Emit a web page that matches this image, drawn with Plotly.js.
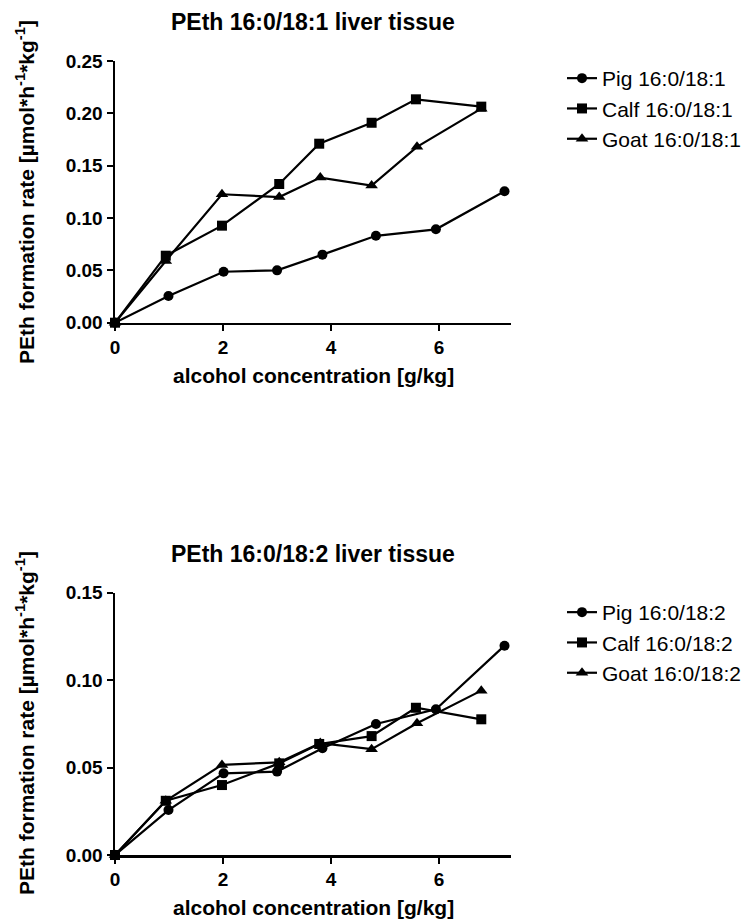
<!DOCTYPE html>
<html>
<head>
<meta charset="utf-8">
<script src="https://cdn.plot.ly/plotly-3.0.1.min.js"></script>
<style>html,body{margin:0;padding:0;background:#fff;}#chart{width:753px;height:919px;}</style>
</head>
<body>
<div id="chart"></div>
<script>
// ---- data ----
const pigX  = [0, 0.99, 2.01, 3.00, 3.84, 4.83, 5.94, 7.21];
const calfX = [0, 0.94, 1.98, 3.04, 3.78, 4.75, 5.57, 6.78];
const goatX = [0, 0.94, 1.98, 3.04, 3.80, 4.75, 5.59, 6.78];

// PEth 16:0/18:1
const pigY1  = [0, 0.0255, 0.0487, 0.0500, 0.0650, 0.0830, 0.0892, 0.1255];
const calfY1 = [0, 0.0640, 0.0927, 0.1325, 0.1710, 0.1910, 0.2134, 0.2064];
const goatY1 = [0, 0.0590, 0.1227, 0.1200, 0.1386, 0.1310, 0.1680, 0.2045];

// PEth 16:0/18:2
const pigY2  = [0, 0.0257, 0.0467, 0.0477, 0.0610, 0.0749, 0.0833, 0.1197];
const calfY2 = [0, 0.0310, 0.0400, 0.0524, 0.0635, 0.0680, 0.0842, 0.0776];
const goatY2 = [0, 0.0310, 0.0515, 0.0530, 0.0640, 0.0605, 0.0753, 0.0940];

const names1 = ['Pig 16:0/18:1', 'Calf 16:0/18:1', 'Goat 16:0/18:1'];
const names2 = ['Pig 16:0/18:2', 'Calf 16:0/18:2', 'Goat 16:0/18:2'];
const titles = ['PEth 16:0/18:1 liver tissue', 'PEth 16:0/18:2 liver tissue'];
const xTitle = 'alcohol concentration [g/kg]';
const yTitle = 'PEth formation rate [µmol*h<sup>-1</sup>*kg<sup>-1</sup>]';

// ---- layout helpers ----
const W = 753, H = 919;
const px = v => v / W;
const py = v => 1 - v / H;
const FONT = 'Liberation Sans, Arial, Helvetica, sans-serif';
const symbols = ['circle', 'square', 'triangle-up'];

function mk(x, y, name, sym, xa, ya, leg) {
  return {
    x: x, y: y, name: name, type: 'scatter', mode: 'lines+markers',
    xaxis: xa, yaxis: ya, legend: leg, cliponaxis: false,
    line: {color: '#000', width: 2.2},
    marker: {symbol: sym, size: sym === 'triangle-up' ? 11 : 10, color: '#000'}
  };
}

const traces = [
  mk(pigX,  pigY1,  names1[0], symbols[0], 'x',  'y',  'legend'),
  mk(calfX, calfY1, names1[1], symbols[1], 'x',  'y',  'legend'),
  mk(goatX, goatY1, names1[2], symbols[2], 'x',  'y',  'legend'),
  mk(pigX,  pigY2,  names2[0], symbols[0], 'x2', 'y2', 'legend2'),
  mk(calfX, calfY2, names2[1], symbols[1], 'x2', 'y2', 'legend2'),
  mk(goatX, goatY2, names2[2], symbols[2], 'x2', 'y2', 'legend2')
];

const tickFont = {family: FONT, size: 19, weight: 'bold', color: '#000'};
function xax(anchor, dom) {
  return {domain: dom, anchor: anchor, range: [0, 7.33], tick0: 0, dtick: 2,
    showline: true, linewidth: 2.5, linecolor: '#000', ticks: 'outside', ticklen: 6,
    tickwidth: 2, tickcolor: '#000', showgrid: false, zeroline: false,
    tickfont: tickFont, fixedrange: true};
}
function yax(anchor, dom, max) {
  return {domain: dom, anchor: anchor, range: [0, max], tick0: 0, dtick: 0.05,
    tickformat: '.2f', showline: true, linewidth: 2.5, linecolor: '#000',
    ticks: 'outside', ticklen: 6, tickwidth: 2, tickcolor: '#000',
    showgrid: false, zeroline: false, tickfont: tickFont, fixedrange: true};
}

const xDom = [px(115), px(511)];
const yDom1 = [py(322.7), py(61)];
const yDom2 = [py(855), py(592.7)];

function ann(text, x, y, size, angle) {
  return {text: '<b>' + text + '</b>', xref: 'paper', yref: 'paper', x: px(x), y: py(y),
    xanchor: 'center', yanchor: 'middle', showarrow: false, textangle: angle || 0,
    font: {family: FONT, size: size, color: '#000'}};
}

const legendBase = {xanchor: 'left', yanchor: 'top', bgcolor: 'rgba(0,0,0,0)',
  font: {family: FONT, size: 21, color: '#000'}, itemwidth: 30, tracegroupgap: 0};

const layout = {
  width: W, height: H, margin: {l: 0, r: 0, t: 0, b: 0},
  paper_bgcolor: '#fff', plot_bgcolor: '#fff', showlegend: true,
  xaxis: xax('y', xDom), yaxis: yax('x', yDom1, 0.25),
  xaxis2: xax('y2', xDom), yaxis2: yax('x2', yDom2, 0.15),
  legend: Object.assign({x: px(562), y: py(58)}, legendBase),
  legend2: Object.assign({x: px(562), y: py(592)}, legendBase),
  annotations: [
    ann(titles[0], 313, 22, 23),
    ann(titles[1], 313, 554, 23),
    ann(xTitle, 313, 375, 21),
    ann(xTitle, 313, 907, 21),
    ann(yTitle, 25, 192, 21, -90),
    ann(yTitle, 25, 723, 21, -90)
  ]
};

Plotly.newPlot('chart', traces, layout, {staticPlot: true, displayModeBar: false});
</script>
</body>
</html>
